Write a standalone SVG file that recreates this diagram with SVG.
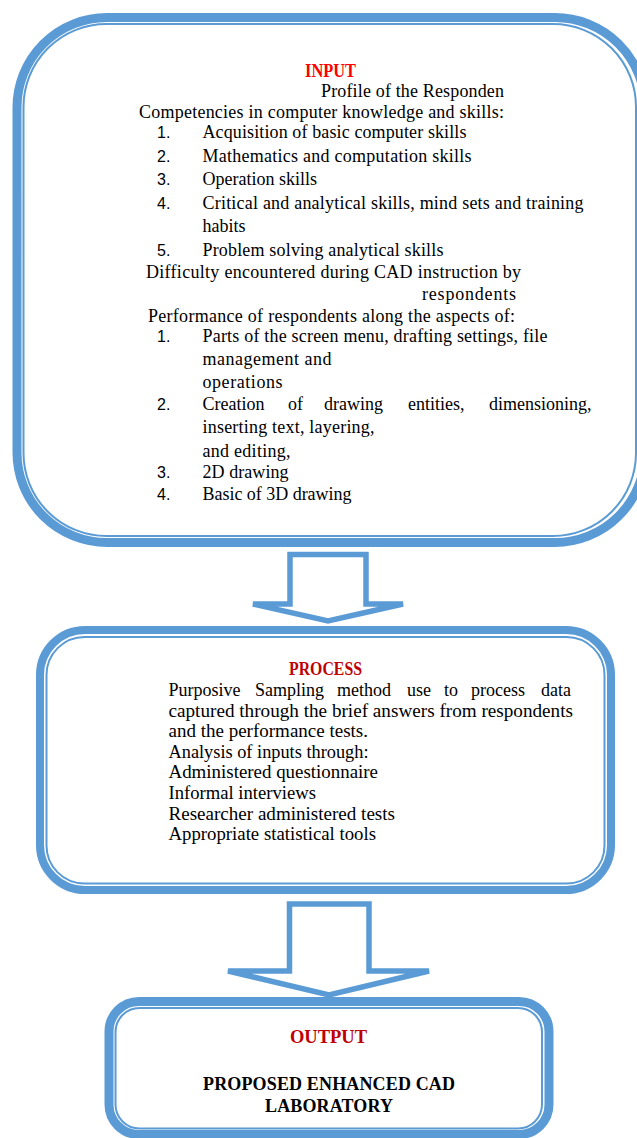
<svg xmlns="http://www.w3.org/2000/svg" width="637" height="1138" viewBox="0 0 637 1138">
  <style>
    .outer { fill: none; stroke: #5B9BD5; stroke-width: 8; }
    .inner { fill: none; stroke: #5B9BD5; stroke-width: 2; }
    .arrow { fill: #FFFFFF; stroke: #5B9BD5; stroke-width: 5.5; stroke-linejoin: miter; stroke-miterlimit: 4; }
    .t { font-family: "Liberation Serif", "Times New Roman", serif; font-size: 18px; fill: #000000; }
    .num { font-family: "Liberation Sans", Arial, sans-serif; font-size: 16px; fill: #000000; }
    .head { font-family: "Liberation Serif", "Times New Roman", serif; font-size: 18px; font-weight: bold; }
    .red { fill: #FF0000; }
    .dred { fill: #C00000; }
    .blk { fill: #000000; }
  </style>
  <rect x="0" y="0" width="637" height="1138" fill="#FFFFFF"/>

  <!-- block arrows between the stages -->
  <g id="connectors">
    <polygon class="arrow" points="290,554.5 366,554.5 366,604 403,604 328,621 253,604 290,604"/>
    <polygon class="arrow" points="289.5,904 369,904 369,971 429,971 329,995 228,971 289.5,971"/>
  </g>

  <!-- input stage -->
  <g id="input">
    <rect class="outer" x="17" y="17.5" width="628" height="525" rx="90" ry="90" style="stroke-width:9"/>
    <rect class="inner" x="23.5" y="24" width="612.5" height="512" rx="83" ry="83"/>
    <text class="head red" x="305" y="76.5" textLength="51" lengthAdjust="spacingAndGlyphs">INPUT</text>
    <text class="t" x="321" y="96.5" textLength="183">Profile of the Responden</text>
    <text class="t" x="139" y="118" textLength="365">Competencies in computer knowledge and skills:</text>
    <text class="num" x="157" y="138">1.</text>
    <text class="t" x="202.5" y="138" textLength="264">Acquisition of basic computer skills</text>
    <text class="num" x="157" y="161.5">2.</text>
    <text class="t" x="202.5" y="161.5" textLength="269">Mathematics and computation skills</text>
    <text class="num" x="157" y="185">3.</text>
    <text class="t" x="202.5" y="185">Operation skills</text>
    <text class="num" x="157" y="208.5">4.</text>
    <text class="t" x="202.5" y="208.5" textLength="381">Critical and analytical skills, mind sets and training</text>
    <text class="t" x="202.5" y="232">habits</text>
    <text class="num" x="157" y="255.5">5.</text>
    <text class="t" x="202.5" y="255.5" textLength="241">Problem solving analytical skills</text>
    <text class="t" x="146" y="278" textLength="375">Difficulty encountered during CAD instruction by</text>
    <text class="t" x="422" y="300" textLength="94">respondents</text>
    <text class="t" x="148" y="321.5" textLength="367">Performance of respondents along the aspects of:</text>
    <text class="num" x="157" y="341.5">1.</text>
    <text class="t" x="202.5" y="341.5" textLength="345">Parts of the screen menu, drafting settings, file</text>
    <text class="t" x="202.5" y="365" textLength="129">management and</text>
    <text class="t" x="202.5" y="388" textLength="80">operations</text>
    <text class="num" x="157" y="410">2.</text>
    <text class="t" y="410"><tspan x="202.5">Creation</tspan><tspan x="288">of</tspan><tspan x="324">drawing</tspan><tspan x="408">entities,</tspan><tspan x="489">dimensioning,</tspan></text>
    <text class="t" x="202.5" y="433" textLength="172">inserting text, layering,</text>
    <text class="t" x="202.5" y="456.5" textLength="88">and editing,</text>
    <text class="num" x="157" y="477.5">3.</text>
    <text class="t" x="202.5" y="477.5" textLength="86">2D drawing</text>
    <text class="num" x="157" y="500">4.</text>
    <text class="t" x="202.5" y="500" textLength="149">Basic of 3D drawing</text>
  </g>

  <!-- process stage -->
  <g id="process">
    <rect class="outer" x="40" y="630" width="571" height="260" rx="45" ry="45"/>
    <rect class="inner" x="46.5" y="637" width="558" height="246.5" rx="38" ry="38"/>
    <text class="head dred" x="289" y="675" textLength="73" lengthAdjust="spacingAndGlyphs">PROCESS</text>
    <text class="t" y="696"><tspan x="168.5">Purposive</tspan><tspan x="255">Sampling</tspan><tspan x="337">method</tspan><tspan x="407">use</tspan><tspan x="444">to</tspan><tspan x="471">process</tspan><tspan x="541">data</tspan></text>
    <text class="t" x="168.5" y="716.5" textLength="404.5" lengthAdjust="spacingAndGlyphs">captured through the brief answers from respondents</text>
    <text class="t" x="168.5" y="737" textLength="199.5" lengthAdjust="spacingAndGlyphs">and the performance tests.</text>
    <text class="t" x="168.5" y="757.5" textLength="200" lengthAdjust="spacingAndGlyphs">Analysis of inputs through:</text>
    <text class="t" x="168.5" y="778" textLength="209.5" lengthAdjust="spacingAndGlyphs">Administered questionnaire</text>
    <text class="t" x="168.5" y="799" textLength="147.5" lengthAdjust="spacingAndGlyphs">Informal interviews</text>
    <text class="t" x="168.5" y="819.5" textLength="226.5" lengthAdjust="spacingAndGlyphs">Researcher administered tests</text>
    <text class="t" x="168.5" y="840" textLength="207.5" lengthAdjust="spacingAndGlyphs">Appropriate statistical tools</text>
  </g>

  <!-- output stage -->
  <g id="output">
    <rect class="outer" x="109" y="1001.5" width="440" height="133" rx="30" ry="30" style="stroke-width:9"/>
    <rect class="inner" x="115.5" y="1008" width="426.5" height="120.5" rx="24" ry="24"/>
    <text class="head dred" x="290" y="1042.5" textLength="77" lengthAdjust="spacingAndGlyphs">OUTPUT</text>
    <text class="head blk" x="203" y="1090" textLength="252">PROPOSED ENHANCED CAD</text>
    <text class="head blk" x="265" y="1111.5" textLength="128">LABORATORY</text>
  </g>
</svg>
